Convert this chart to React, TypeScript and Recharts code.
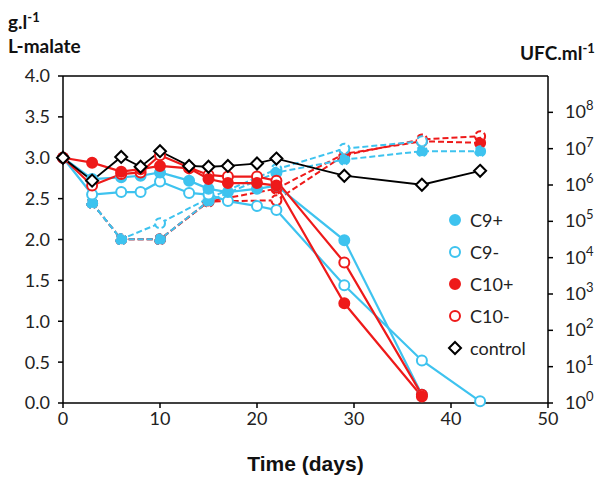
import React from 'react';
import { LineChart, Line, XAxis, YAxis, ReferenceLine } from 'recharts';

const BLUE = '#3EC3EF';
const RED = '#EE1A1A';
const FONT = 'Lato, "Open Sans", sans-serif';

const xTicks = [0, 10, 20, 30, 40, 50];
const leftTicks = [0, 0.5, 1, 1.5, 2, 2.5, 3, 3.5, 4];
const rightTicks = [1, 10, 100, 1e3, 1e4, 1e5, 1e6, 1e7, 1e8];

// L-malate (g/l), left axis
const c9PlusMalate = [
  { day: 0, v: 3.0 }, { day: 3, v: 2.74 }, { day: 6, v: 2.76 }, { day: 8, v: 2.78 },
  { day: 10, v: 2.82 }, { day: 13, v: 2.72 }, { day: 15, v: 2.62 }, { day: 17, v: 2.58 },
  { day: 20, v: 2.62 }, { day: 22, v: 2.66 }, { day: 29, v: 1.99 }, { day: 37, v: 0.1 },
];
const c9MinusMalate = [
  { day: 0, v: 3.0 }, { day: 3, v: 2.55 }, { day: 6, v: 2.58 }, { day: 8, v: 2.58 },
  { day: 10, v: 2.71 }, { day: 13, v: 2.57 }, { day: 15, v: 2.55 }, { day: 17, v: 2.47 },
  { day: 20, v: 2.41 }, { day: 22, v: 2.36 }, { day: 29, v: 1.44 }, { day: 37, v: 0.52 },
  { day: 43, v: 0.02 },
];
const c10PlusMalate = [
  { day: 0, v: 3.0 }, { day: 3, v: 2.94 }, { day: 6, v: 2.83 }, { day: 8, v: 2.86 },
  { day: 10, v: 2.9 }, { day: 13, v: 2.87 }, { day: 15, v: 2.74 }, { day: 17, v: 2.69 },
  { day: 20, v: 2.69 }, { day: 22, v: 2.66 }, { day: 29, v: 1.22 }, { day: 37, v: 0.08 },
];
const c10MinusMalate = [
  { day: 0, v: 3.0 }, { day: 3, v: 2.66 }, { day: 6, v: 2.8 }, { day: 8, v: 2.82 },
  { day: 10, v: 3.03 }, { day: 13, v: 2.88 }, { day: 15, v: 2.79 }, { day: 17, v: 2.77 },
  { day: 20, v: 2.77 }, { day: 22, v: 2.72 }, { day: 29, v: 1.72 }, { day: 37, v: 0.1 },
];
const controlMalate = [
  { day: 0, v: 3.0 }, { day: 3, v: 2.72 }, { day: 6, v: 3.01 }, { day: 8, v: 2.89 },
  { day: 10, v: 3.08 }, { day: 13, v: 2.9 }, { day: 15, v: 2.89 }, { day: 17, v: 2.9 },
  { day: 20, v: 2.93 }, { day: 22, v: 2.99 }, { day: 29, v: 2.78 }, { day: 37, v: 2.67 },
  { day: 43, v: 2.84 },
];

// Population (UFC/ml), right axis
const c9PlusUfc = [
  { day: 3, u: 3.2e5 }, { day: 6, u: 3.2e4 }, { day: 10, u: 3.2e4 }, { day: 15, u: 3.6e5 },
  { day: 22, u: 2.2e6 }, { day: 29, u: 5.0e6 }, { day: 37, u: 8.5e6 }, { day: 43, u: 8.5e6 },
];
const c9MinusUfc = [
  { day: 3, u: 3.2e5 }, { day: 6, u: 3.2e4 }, { day: 10, u: 8.9e4 }, { day: 15, u: 4.3e5 },
  { day: 22, u: 2.7e6 }, { day: 29, u: 1.0e7 }, { day: 37, u: 1.6e7 },
];
const c10PlusUfc = [
  { day: 3, u: 3.2e5 }, { day: 6, u: 3.2e4 }, { day: 10, u: 3.2e4 }, { day: 15, u: 3.5e5 },
  { day: 22, u: 7.9e5 }, { day: 29, u: 7.2e6 }, { day: 37, u: 1.6e7 }, { day: 43, u: 1.45e7 },
];
const c10MinusUfc = [
  { day: 3, u: 3.2e5 }, { day: 6, u: 3.2e4 }, { day: 10, u: 3.2e4 }, { day: 15, u: 3.5e5 },
  { day: 22, u: 3.8e5 }, { day: 29, u: 6.6e6 }, { day: 37, u: 1.8e7 }, { day: 43, u: 2.2e7 },
];

const legendItems = [
  { name: 'C9+', color: BLUE, filled: true, shape: 'circle' },
  { name: 'C9-', color: BLUE, filled: false, shape: 'circle' },
  { name: 'C10+', color: RED, filled: true, shape: 'circle' },
  { name: 'C10-', color: RED, filled: false, shape: 'circle' },
  { name: 'control', color: '#000', filled: false, shape: 'diamond' },
];

const circleDot = (color: string, filled: boolean) => ({
  r: 5,
  fill: filled ? color : '#fff',
  stroke: color,
  strokeWidth: 2,
});

const Diamond = (props: any) => {
  const { cx, cy, index } = props;
  if (cx == null || cy == null) return <g key={index} />;
  const s = 6;
  return (
    <polygon
      key={index}
      points={`${cx},${cy - s} ${cx + s},${cy} ${cx},${cy + s} ${cx - s},${cy}`}
      fill="#fff"
      stroke="#000"
      strokeWidth={2}
    />
  );
};

const RightTick = (props: any) => {
  const { x, y, payload } = props;
  const exp = Math.round(Math.log10(payload.value));
  return (
    <text x={x + 10} y={y + 6} fontFamily={FONT} fontSize={18} fill="#222" textAnchor="start">
      <tspan>10</tspan>
      <tspan dy={-8} fontSize={13}>{exp}</tspan>
    </text>
  );
};

const titleStyle: React.CSSProperties = {
  position: 'absolute',
  fontFamily: FONT,
  fontWeight: 700,
  fontSize: 19,
  color: '#111',
  lineHeight: '20px',
  whiteSpace: 'nowrap',
};
const supStyle: React.CSSProperties = { fontSize: 13, lineHeight: 0, verticalAlign: 'super' };

export default function App() {
  const tickStyle = { fontFamily: FONT, fontSize: 18, fill: '#222' };
  return (
    <div style={{ position: 'relative', width: 601, height: 476 }}>
      <LineChart
        width={601}
        height={476}
        margin={{ top: 68, right: 7, bottom: 51, left: 5 }}
      >
        <XAxis
          dataKey="day"
          type="number"
          domain={[0, 50]}
          ticks={xTicks}
          interval={0}
          allowDuplicatedCategory={false}
          stroke="#000"
          strokeWidth={1.5}
          tickSize={5}
          tickMargin={4}
          height={30}
          tick={tickStyle}
        />
        <YAxis
          yAxisId="left"
          domain={[0, 4]}
          ticks={leftTicks}
          interval={0}
          tickFormatter={(v: number) => v.toFixed(1)}
          stroke="#000"
          strokeWidth={1.5}
          tickSize={5}
          tickMargin={8}
          width={50}
          tick={tickStyle}
        />
        <YAxis
          yAxisId="right"
          orientation="right"
          scale="log"
          domain={[1, 1e9]}
          ticks={rightTicks}
          interval={0}
          allowDataOverflow
          stroke="#000"
          strokeWidth={1.5}
          tickSize={5}
          width={54}
          tick={<RightTick />}
        />
        <ReferenceLine yAxisId="left" y={4} stroke="#000" strokeWidth={1.5} />

        <Line yAxisId="right" data={c10MinusUfc} dataKey="u" stroke={RED} strokeWidth={2} strokeDasharray="6 3"
          dot={circleDot(RED, false)} isAnimationActive={false} legendType="none" />
        <Line yAxisId="right" data={c10PlusUfc} dataKey="u" stroke={RED} strokeWidth={2} strokeDasharray="6 3"
          dot={circleDot(RED, true)} isAnimationActive={false} legendType="none" />
        <Line yAxisId="right" data={c9MinusUfc} dataKey="u" stroke={BLUE} strokeWidth={2} strokeDasharray="6 3"
          dot={circleDot(BLUE, false)} isAnimationActive={false} legendType="none" />
        <Line yAxisId="right" data={c9PlusUfc} dataKey="u" stroke={BLUE} strokeWidth={2} strokeDasharray="6 3"
          dot={circleDot(BLUE, true)} isAnimationActive={false} legendType="none" />

        <Line yAxisId="left" data={c9MinusMalate} dataKey="v" name="C9-" stroke={BLUE} strokeWidth={2.2}
          dot={circleDot(BLUE, false)} isAnimationActive={false} />
        <Line yAxisId="left" data={c9PlusMalate} dataKey="v" name="C9+" stroke={BLUE} strokeWidth={2.2}
          dot={circleDot(BLUE, true)} isAnimationActive={false} />
        <Line yAxisId="left" data={c10MinusMalate} dataKey="v" name="C10-" stroke={RED} strokeWidth={2.2}
          dot={circleDot(RED, false)} isAnimationActive={false} />
        <Line yAxisId="left" data={c10PlusMalate} dataKey="v" name="C10+" stroke={RED} strokeWidth={2.2}
          dot={circleDot(RED, true)} isAnimationActive={false} />
        <Line yAxisId="left" data={controlMalate} dataKey="v" name="control" stroke="#000" strokeWidth={1.8}
          dot={<Diamond />} isAnimationActive={false} />
      </LineChart>

      <div style={{ position: 'absolute', left: 439, top: 196, fontFamily: FONT, fontSize: 18, color: '#222' }}>
        {legendItems.map((it) => (
          <div key={it.name} style={{ display: 'flex', alignItems: 'center', height: 32 }}>
            <svg width={16} height={16} style={{ marginRight: 7 }}>
              {it.shape === 'circle' ? (
                <circle cx={8} cy={8} r={5} fill={it.filled ? it.color : '#fff'} stroke={it.color} strokeWidth={2} />
              ) : (
                <polygon points="8,2 14,8 8,14 2,8" fill="#fff" stroke="#000" strokeWidth={2} />
              )}
            </svg>
            <span>{it.name}</span>
          </div>
        ))}
      </div>

      <div style={{ ...titleStyle, left: 0, top: 4 }}>
        g.l<sup style={supStyle}>-1</sup>
      </div>
      <div style={{ ...titleStyle, left: 0, top: 28 }}>
        L-malate
      </div>
      <div style={{ ...titleStyle, left: 512, top: 35 }}>
        UFC.ml<sup style={supStyle}>-1</sup>
      </div>
      <div style={{ position: 'absolute', left: 55, width: 485, top: 444, textAlign: 'center', fontFamily: 'Liberation Sans, Arial, sans-serif', fontWeight: 700, fontSize: 21, color: '#111' }}>
        Time (days)
      </div>
    </div>
  );
}
